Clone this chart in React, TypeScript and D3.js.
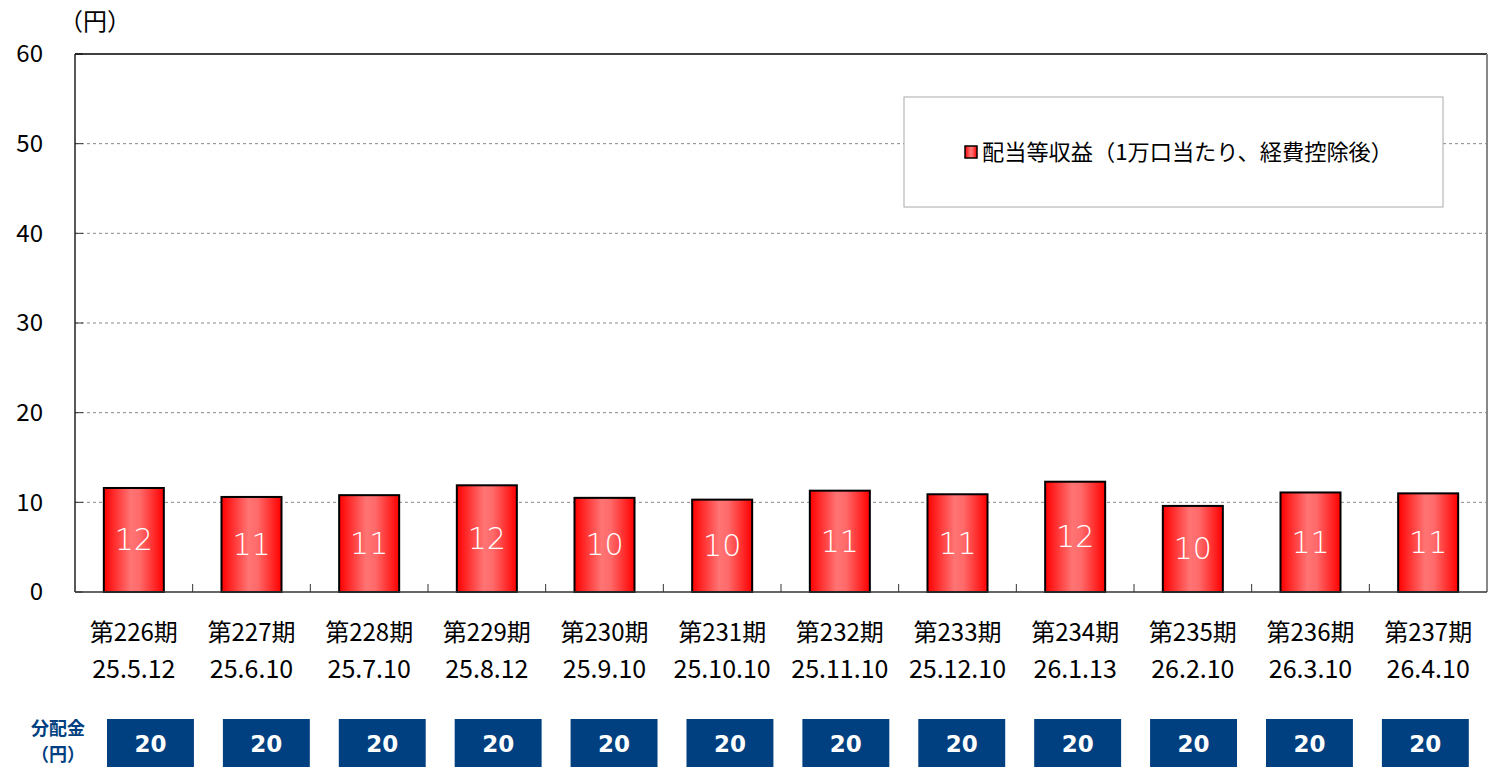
import React from "react";
import * as d3 from "d3";

const periods = ["第226期", "第227期", "第228期", "第229期", "第230期", "第231期", "第232期", "第233期", "第234期", "第235期", "第236期", "第237期"];
const dates = ["25.5.12", "25.6.10", "25.7.10", "25.8.12", "25.9.10", "25.10.10", "25.11.10", "25.12.10", "26.1.13", "26.2.10", "26.3.10", "26.4.10"];
const income = [11.6, 10.6, 10.8, 11.9, 10.5, 10.3, 11.3, 10.9, 12.3, 9.6, 11.1, 11.0];
const incomeLabels = ["12", "11", "11", "12", "10", "10", "11", "11", "12", "10", "11", "11"];
const payouts = [20, 20, 20, 20, 20, 20, 20, 20, 20, 20, 20, 20];
const yTicks = [0, 10, 20, 30, 40, 50, 60];

const W = 1491;
const H = 767;
const left = 75, right = 1487, top = 54, bottom = 592;
const font = "'Noto Sans CJK JP', 'Noto Sans', sans-serif";
const navy = "#003f80";

export default function App() {
  const idx = periods.map((_, i) => i);
  const x = d3.scaleBand<number>().domain(idx).range([left, right]).paddingInner(0.49).paddingOuter(0.245);
  const xb = d3.scaleBand<number>().domain(idx).range([left, right]);
  const xBox = d3.scaleBand<number>().domain(idx).range([92.5, 1483.3]).paddingInner(0.25).paddingOuter(0.125);
  const y = d3.scaleLinear().domain([0, 60]).range([bottom, top]);

  return (
    <svg width={W} height={H} style={{ position: "absolute", left: 0, top: 0 }} fontFamily={font}>
      <defs>
        <linearGradient id="barGrad" x1="0" x2="1" y1="0" y2="0">
          <stop offset="0" stopColor="#ff0000" />
          <stop offset="0.45" stopColor="#ff7474" />
          <stop offset="0.6" stopColor="#ff6a6a" />
          <stop offset="1" stopColor="#ff0000" />
        </linearGradient>
      </defs>
      <rect width={W} height={H} fill="#fff" />

      {/* grid */}
      {yTicks.filter(t => t > 0 && t < 60).map(t => (
        <line key={t} x1={left} x2={right} y1={y(t)} y2={y(t)} stroke="#888" strokeDasharray="3,3" strokeWidth={1} />
      ))}
      {yTicks.map(t => (
        <g key={"yt" + t}>
          <line x1={left} x2={left + 8} y1={y(t)} y2={y(t)} stroke="#333" />
          <text x={43} y={y(t)} dy="0.35em" textAnchor="end" fontSize={24} fill="#000">{t}</text>
        </g>
      ))}
      <text x={95} y={22} dy="0.35em" textAnchor="middle" fontSize={24}>（円）</text>

      {/* frame */}
      <line x1={left} x2={right} y1={top} y2={top} stroke="#000" strokeWidth={1.5} />
      <line x1={right} x2={right} y1={top} y2={bottom} stroke="#888" strokeWidth={2} />
      <line x1={left} x2={left} y1={top} y2={bottom} stroke="#222" strokeWidth={1.5} />

      {/* x ticks */}
      {idx.slice(1).map(i => (
        <line key={"xt" + i} x1={xb(i)!} x2={xb(i)!} y1={bottom - 8} y2={bottom} stroke="#333" />
      ))}

      {/* bars */}
      {income.map((v, i) => (
        <g key={"b" + i}>
          <rect x={x(i)!} y={y(v)} width={x.bandwidth()} height={y(0) - y(v)} fill="url(#barGrad)" stroke="#000" strokeWidth={2} />
          <text x={x(i)! + x.bandwidth() / 2} y={(y(v) + y(0)) / 2} dy="0.35em" textAnchor="middle" fontSize={30} fill="#fff" fontFamily="'DejaVu Sans', sans-serif" fontWeight={300}>{incomeLabels[i]}</text>
        </g>
      ))}
      <line x1={left} x2={right} y1={bottom} y2={bottom} stroke="#333" strokeWidth={1.5} />

      {/* x labels */}
      {idx.map(i => (
        <g key={"xl" + i}>
          <text x={xb(i)! + xb.bandwidth() / 2} y={633} dy="0.35em" textAnchor="middle" fontSize={24}>{periods[i]}</text>
          <text x={xb(i)! + xb.bandwidth() / 2} y={669} dy="0.35em" textAnchor="middle" fontSize={25}>{dates[i]}</text>
        </g>
      ))}

      {/* legend */}
      <rect x={904} y={97} width={539} height={110} fill="#fff" stroke="#aaa" strokeWidth={1} />
      <rect x={965} y={146} width={12} height={12} fill="url(#barGrad)" stroke="#000" strokeWidth={1.5} />
      <text x={982} y={152} dy="0.35em" fontSize={22} textLength={411} lengthAdjust="spacingAndGlyphs">配当等収益（1万口当たり、経費控除後）</text>

      {/* payouts */}
      <text x={58} y={729} dy="0.35em" textAnchor="middle" fontSize={18} fontWeight={700} fill={navy}>分配金</text>
      <text x={58} y={755} dy="0.35em" textAnchor="middle" fontSize={18} fontWeight={700} fill={navy}>（円）</text>
      {payouts.map((p, i) => (
        <g key={"p" + i}>
          <rect x={xBox(i)!} y={719} width={xBox.bandwidth()} height={48} fill={navy} />
          <text x={xBox(i)! + xBox.bandwidth() / 2} y={744} dy="0.35em" textAnchor="middle" fontSize={23} fontWeight={700} fill="#fff" fontFamily="'DejaVu Sans', sans-serif">{p}</text>
        </g>
      ))}
    </svg>
  );
}
